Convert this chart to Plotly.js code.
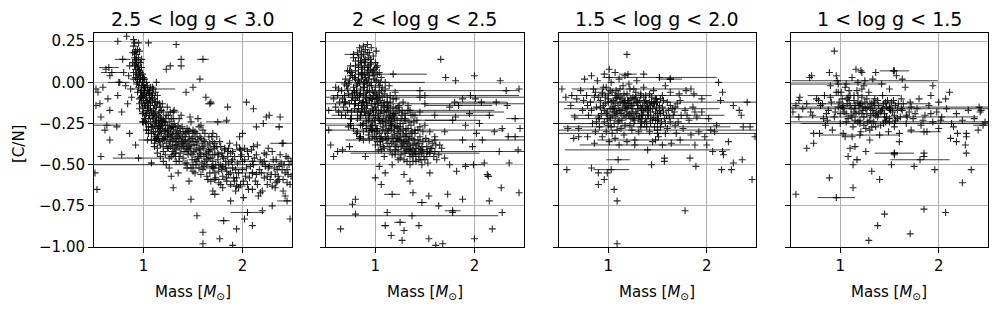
<!DOCTYPE html>
<html>
<head>
<meta charset="utf-8">
<script src="https://cdn.plot.ly/plotly-3.0.1.min.js"></script>
<style>html,body{margin:0;padding:0;background:#fff;}#chart{width:998px;height:311px;}</style>
</head>
<body>
<div id="chart"></div>
<script>
// ---------- panel titles / labels ----------
const panelTitles = ["2.5 < log g < 3.0", "2 < log g < 2.5", "1.5 < log g < 2.0", "1 < log g < 1.5"];
const xTickVals = [1, 2];
const yTickVals = [-1.0, -0.75, -0.5, -0.25, 0.0, 0.25];

// ---------- panel 1 : 2.5 < log g < 3.0 ----------
const mass1 = [
0.90,0.91,0.92,0.93,0.94,0.92,0.95,0.93,0.96,0.94,
0.89,0.91,0.95,0.97,0.96,0.98,0.92,0.90,0.94,0.97,
0.93,0.91,0.95,0.96,0.99,0.98,0.90,0.93,0.95,0.97,
1.00,1.01,0.99,1.02,1.03,1.00,0.98,1.04,1.05,1.02,
0.97,1.01,1.03,0.99,1.05,1.06,1.04,1.00,1.02,0.96,
1.07,1.08,1.06,1.09,1.05,1.03,1.07,1.10,1.08,1.01,
1.10,1.12,1.11,1.13,1.15,1.14,1.12,1.16,1.17,1.18,
1.10,1.13,1.09,1.15,1.19,1.20,1.18,1.16,1.21,1.14,
1.11,1.12,1.09,1.17,1.20,1.22,1.23,1.19,1.11,1.14,
1.24,1.25,1.27,1.26,1.28,1.30,1.29,1.31,1.32,1.33,
1.25,1.27,1.34,1.35,1.36,1.37,1.38,1.39,1.40,1.30,
1.22,1.26,1.33,1.36,1.24,1.31,1.38,1.41,1.42,1.35,
1.43,1.44,1.45,1.46,1.47,1.48,1.49,1.50,1.51,1.52,
1.53,1.54,1.55,1.56,1.57,1.58,1.59,1.60,1.44,1.47,
1.50,1.55,1.58,1.61,1.42,1.46,1.52,1.57,1.60,1.62,
1.63,1.64,1.65,1.66,1.67,1.68,1.69,1.70,1.71,1.72,
1.73,1.74,1.75,1.76,1.77,1.78,1.79,1.80,1.81,1.82,
1.83,1.84,1.85,1.86,1.87,1.88,1.89,1.65,1.70,1.78,
1.90,1.92,1.94,1.95,1.97,1.98,2.00,2.02,2.03,2.05,
2.06,2.08,2.10,2.12,2.13,2.15,2.17,2.18,2.20,2.22,
2.24,2.25,2.27,2.29,2.31,2.33,2.35,2.37,2.39,2.41,
2.43,2.45,2.47,2.49,1.93,2.01,2.09,2.16,2.26,2.44,
1.02,1.04,1.06,1.08,1.13,1.15,1.17,1.19,1.21,1.23,
1.26,1.28,1.29,1.32,1.34,1.37,1.39,1.41,1.43,1.45,
1.48,1.50,1.53,1.55,1.58,1.61,1.64,1.67,1.69,1.72,
0.98,1.00,0.97,1.01,1.03,1.05,1.07,1.09,1.11,1.12,
1.14,1.16,1.18,1.20,1.22,1.25,1.27,1.30,1.33,1.36,
0.83,0.90,0.74,1.05,1.33,1.38,1.23,1.27,0.59,0.56,
0.64,0.54,0.66,0.74,0.61,0.66,0.57,0.53,0.92,0.86,
1.03,0.99,1.30,1.28,1.48,1.54,1.60,1.77,1.60,1.90,
1.94,2.02,2.10,2.34,2.48,2.43,2.27,2.38,2.24,2.11,
2.04,1.85,1.68,1.63,1.50,1.43,1.57,1.38,1.13,0.66,
0.52,0.62,0.57,0.73,0.52,0.78,0.51,2.14,2.21,2.41,
1.97,1.84,2.11,2.00,1.46,1.35,1.70,1.88,2.30,2.20,
0.94,0.96,0.99,1.01,1.04,0.95,0.98,0.92,0.96,1.00,
1.06,1.09,1.12,1.14,1.16,1.04,1.07,1.10,1.13,1.18,
0.99,1.02,1.05,1.08,1.11,1.15,1.19,1.22,1.25,1.28,
1.30,1.32,1.35,1.38,1.40,1.42,1.44,1.46,1.48,1.50,
1.17,1.19,1.21,1.24,1.27,1.29,1.31,1.34,1.37,1.40,
1.43,1.47,1.51,1.54,1.56,1.59,1.62,1.66,1.70,1.73,
1.76,1.79,1.83,1.86,1.90,1.93,1.96,2.00,2.04,2.07,
2.11,2.14,2.19,2.23,2.28,2.32,2.36,2.40,2.46,2.48,
1.52,1.56,1.61,1.66,1.71,1.75,1.80,1.85,1.91,1.99,
0.91,0.93,0.95,0.97,0.99,0.92,0.94,0.96,0.98,1.00,
1.01,1.03,1.05,1.07,1.09,1.11,1.13,1.15,1.17,1.20,
1.22,1.24,1.27,1.30,1.33,1.36,1.39,1.42,1.45,1.49,
1.53,1.57,1.61,1.64,1.68,1.72,1.76,1.80,1.84,1.88,
1.12,1.16,1.20,1.24,1.28,1.32,1.36,1.40,1.44,1.48,
1.52,1.56,1.60,1.64,1.68,1.72,1.76,1.80,1.84,1.88,
1.92,1.96,2.01,2.05,2.10,2.15,2.20,2.25,2.30,2.35,
1.50,1.54,1.58,1.62,1.66,1.70,1.74,1.78,1.82,1.86,
1.90,1.94,1.98,2.02,2.06,2.10,2.14,2.18,2.22,2.26,
1.05,1.08,1.11,1.14,1.17,1.20,1.23,1.26,1.29,1.32,
0.85,0.87,0.88,0.86,0.84,0.89,0.82,0.80,0.78,0.76,
2.30,2.34,2.38,2.42,2.46,2.49,2.33,2.37,2.41,2.45
];
const cn1 = [
0.22,0.18,0.14,0.12,0.20,0.08,0.10,0.05,0.07,0.02,
0.12,0.10,0.15,0.04,0.00,-0.02,0.03,0.06,0.09,0.12,
0.17,0.24,0.24,0.19,0.05,0.09,0.02,-0.01,-0.03,-0.06,
-0.02,-0.05,-0.08,-0.03,-0.08,-0.11,-0.12,-0.12,-0.06,-0.14,
-0.09,0.02,0.00,-0.15,-0.16,-0.10,-0.02,-0.18,-0.20,-0.13,
-0.14,-0.18,-0.20,-0.12,-0.22,-0.25,-0.24,-0.16,-0.08,-0.22,
-0.22,-0.18,-0.26,-0.23,-0.20,-0.28,-0.30,-0.25,-0.15,-0.22,
-0.30,-0.34,-0.27,-0.32,-0.28,-0.18,-0.31,-0.36,-0.24,-0.12,
-0.10,-0.06,-0.03,-0.38,-0.34,-0.29,-0.20,-0.13,-0.37,-0.40,
-0.26,-0.32,-0.28,-0.36,-0.22,-0.30,-0.38,-0.25,-0.34,-0.41,
-0.40,-0.18,-0.29,-0.36,-0.22,-0.32,-0.40,-0.27,-0.35,-0.44,
-0.44,-0.46,-0.48,-0.45,-0.15,-0.17,-0.20,-0.42,-0.30,-0.26,
-0.37,-0.28,-0.44,-0.33,-0.40,-0.24,-0.47,-0.36,-0.42,-0.30,
-0.50,-0.38,-0.45,-0.27,-0.41,-0.34,-0.49,-0.39,-0.52,-0.21,
-0.54,-0.22,-0.56,-0.45,-0.49,-0.39,-0.47,-0.33,-0.29,-0.36,
-0.43,-0.50,-0.38,-0.46,-0.55,-0.41,-0.33,-0.48,-0.52,-0.44,
-0.58,-0.39,-0.47,-0.54,-0.36,-0.50,-0.43,-0.57,-0.46,-0.40,
-0.52,-0.60,-0.45,-0.49,-0.37,-0.55,-0.48,-0.59,-0.31,-0.62,
-0.52,-0.45,-0.58,-0.49,-0.40,-0.62,-0.53,-0.47,-0.57,-0.42,
-0.65,-0.51,-0.55,-0.46,-0.60,-0.38,-0.53,-0.67,-0.49,-0.58,
-0.44,-0.62,-0.51,-0.56,-0.47,-0.64,-0.53,-0.59,-0.49,-0.66,
-0.55,-0.61,-0.50,-0.57,-0.66,-0.70,-0.41,-0.69,-0.40,-0.45,
-0.09,-0.17,-0.05,-0.27,-0.15,-0.27,-0.21,-0.35,-0.30,-0.37,
-0.24,-0.33,-0.42,-0.27,-0.38,-0.43,-0.33,-0.38,-0.31,-0.36,
-0.43,-0.31,-0.41,-0.35,-0.44,-0.40,-0.44,-0.37,-0.51,-0.40,
-0.05,0.03,0.02,-0.14,-0.19,-0.27,-0.03,-0.21,-0.14,-0.24,
-0.33,-0.18,-0.26,-0.39,-0.22,-0.29,-0.35,-0.35,-0.31,-0.39,
0.28,0.26,0.25,0.24,0.23,0.14,0.08,0.10,-0.03,-0.13,
-0.10,-0.06,-0.17,-0.08,-0.29,-0.35,-0.45,-0.65,-0.38,-0.31,
-0.29,-0.24,-0.64,-0.57,-0.71,-0.81,-0.91,-0.95,-0.98,-0.99,
-0.89,-0.83,-0.87,-0.61,-0.83,-0.69,-0.20,-0.21,-0.21,-0.16,
-0.12,-0.15,-0.12,-0.09,-0.03,-0.06,0.02,0.10,0.00,0.04,
-0.04,0.08,-0.21,-0.27,-0.14,-0.44,-0.55,-0.27,-0.25,-0.37,
-0.33,-0.23,-0.39,-0.31,-0.60,-0.55,-0.66,-0.72,-0.75,-0.78,
-0.06,-0.10,0.00,-0.08,-0.05,0.05,0.14,0.19,-0.16,-0.24,
-0.07,-0.09,-0.12,-0.08,-0.13,-0.15,-0.17,-0.20,-0.21,-0.17,
-0.19,-0.24,-0.29,-0.31,-0.33,-0.35,-0.24,-0.26,-0.20,-0.27,
-0.22,-0.38,-0.31,-0.36,-0.30,-0.33,-0.40,-0.29,-0.38,-0.44,
-0.29,-0.24,-0.35,-0.33,-0.39,-0.27,-0.40,-0.33,-0.28,-0.39,
-0.42,-0.35,-0.38,-0.48,-0.40,-0.37,-0.48,-0.41,-0.44,-0.50,
-0.44,-0.53,-0.48,-0.56,-0.47,-0.53,-0.55,-0.48,-0.52,-0.58,
-0.50,-0.56,-0.55,-0.51,-0.59,-0.52,-0.57,-0.53,-0.56,-0.62,
-0.33,-0.46,-0.51,-0.42,-0.39,-0.43,-0.51,-0.42,-0.58,-0.44,
0.15,0.13,0.08,0.06,0.02,0.11,0.00,0.03,-0.09,-0.07,
-0.03,-0.11,-0.13,-0.11,-0.07,-0.19,-0.25,-0.23,-0.27,-0.23,
-0.33,-0.30,-0.31,-0.27,-0.36,-0.34,-0.37,-0.35,-0.41,-0.34,
-0.36,-0.43,-0.35,-0.47,-0.46,-0.37,-0.50,-0.45,-0.54,-0.43,
-0.35,-0.30,-0.42,-0.40,-0.45,-0.43,-0.48,-0.46,-0.49,-0.52,
-0.55,-0.52,-0.53,-0.57,-0.60,-0.55,-0.61,-0.64,-0.58,-0.62,
-0.60,-0.64,-0.60,-0.62,-0.65,-0.62,-0.66,-0.57,-0.63,-0.60,
-0.29,-0.31,-0.26,-0.31,-0.33,-0.36,-0.33,-0.39,-0.41,-0.40,
-0.42,-0.38,-0.45,-0.40,-0.45,-0.48,-0.44,-0.47,-0.43,-0.52,
-0.31,-0.35,-0.39,-0.43,-0.45,-0.48,-0.50,-0.52,-0.32,-0.45,
0.04,-0.04,-0.09,0.10,-0.13,0.18,-0.02,0.06,-0.18,0.00,
-0.42,-0.47,-0.44,-0.50,-0.46,-0.48,-0.56,-0.51,-0.59,-0.53
];
const errMass1 = [0.65,0.68,0.79,0.75,1.10,0.63,1.04,0.95,1.50,1.08,1.60,2.37,2.40,2.22,1.94,2.05,1.81,2.45,1.67,1.75,1.98,1.72,1.72,1.70,1.30,1.45,2.10];
const errCN1   = [0.09,0.06,0.14,0.00,-0.04,-0.26,-0.35,-0.46,-0.50,-0.49,0.14,-0.27,-0.37,-0.48,-0.63,-0.79,-0.84,-0.72,-0.13,-0.24,-0.41,-0.59,-0.68,-0.52,-0.18,-0.30,-0.55];
const errSize1 = [0.10,0.11,0.08,0.11,0.22,0.14,0.09,0.26,1.10,0.03,0.06,0.04,0.12,0.29,0.09,0.17,0.06,0.10,0.05,0.12,0.08,0.11,0.05,0.30,0.06,0.10,0.20];

// ---------- panel 2 : 2 < log g < 2.5 ----------
const mass2 = [
0.78,0.82,0.85,0.88,0.90,0.93,0.80,0.87,0.92,0.95,
0.76,0.79,0.83,0.86,0.89,0.91,0.94,0.97,0.99,0.84,
0.70,0.73,0.75,0.81,0.85,0.88,0.92,0.96,1.00,1.03,
0.66,0.69,0.72,0.77,0.80,0.84,0.87,0.90,0.94,0.98,
1.01,1.04,1.07,1.10,0.64,0.68,0.74,0.79,0.83,0.86,
0.89,0.93,0.97,1.00,1.03,1.06,1.09,1.12,1.15,1.18,
0.82,0.85,0.91,0.95,0.99,1.02,1.05,1.08,1.11,1.14,
1.17,1.20,1.23,1.26,0.88,0.93,0.97,1.01,1.04,1.07,
1.10,1.13,1.16,1.19,1.22,1.25,1.28,1.31,1.34,1.36,
1.05,1.09,1.12,1.15,1.18,1.21,1.24,1.27,1.30,1.33,
1.36,1.39,1.42,1.45,1.48,1.20,1.25,1.30,1.35,1.40,
1.44,1.48,1.52,1.55,1.58,1.38,1.46,1.52,1.60,1.43,
0.86,0.89,0.91,0.94,0.96,0.98,1.02,1.05,1.08,1.11,
1.14,1.17,1.20,1.23,1.26,1.29,1.32,1.35,1.38,1.41,
0.78,0.81,0.84,0.87,0.90,0.93,0.96,0.99,1.02,1.06,
0.80,0.83,0.87,0.92,0.97,1.01,1.05,1.09,1.13,1.16,
1.19,1.22,1.25,1.28,1.31,1.34,1.37,1.40,1.44,1.47,
0.75,0.72,0.69,0.62,0.60,0.58,0.63,0.70,0.76,0.73,
1.15,1.20,1.28,1.33,1.40,1.50,1.55,1.60,1.53,1.62,
0.88,0.91,0.95,0.99,1.03,1.07,1.11,1.15,1.19,1.23,
0.84,0.89,0.93,0.97,1.01,1.04,1.08,1.12,1.16,1.21,
1.66,1.01,1.71,1.81,2.00,2.26,2.32,2.45,2.33,2.22,
1.96,2.01,2.15,2.28,2.46,2.34,2.44,2.25,2.35,2.45,
2.27,2.15,2.28,2.18,2.00,1.68,1.61,1.54,1.44,1.29,
1.27,1.16,1.12,0.77,0.65,0.80,1.00,1.06,1.29,1.38,
1.54,1.73,1.88,1.64,1.78,1.91,1.75,1.82,2.13,2.10,
1.98,1.88,2.08,2.02,1.91,1.95,1.81,1.80,1.88,0.53,
0.55,0.62,0.58,0.67,0.74,0.85,0.53,1.04,1.17,0.80,
0.90,1.60,1.70,1.65,1.75,2.05,2.20,1.55,1.35,1.10,
0.80,0.83,0.86,0.89,0.92,0.95,0.98,1.01,1.04,1.07,
0.79,0.82,0.85,0.88,0.91,0.94,0.97,1.00,1.03,1.06,
0.76,0.79,0.82,0.85,0.88,0.91,0.94,0.97,1.00,1.03,
1.09,1.12,1.15,1.18,1.21,1.24,1.27,1.30,1.33,1.36,
1.10,1.13,1.16,1.19,1.22,1.25,1.28,1.31,1.34,1.37,
1.20,1.23,1.26,1.29,1.32,1.35,1.38,1.41,1.44,1.47,
0.83,0.86,0.90,0.93,0.96,0.99,1.02,1.06,1.10,1.14,
0.71,0.74,0.77,0.80,0.83,0.86,0.89,0.92,0.95,0.98,
1.01,1.04,1.07,1.10,1.13,1.16,1.19,1.22,1.25,1.28,
1.31,1.34,1.37,1.40,1.43,1.46,1.49,1.52,1.56,1.59,
0.67,0.70,0.73,0.76,0.79,0.82,0.85,0.88,0.91,0.94,
0.86,0.90,0.93,0.96,0.99,1.02,1.06,1.09,1.13,1.18,
0.74,0.77,0.80,0.83,0.86,0.89,0.92,0.95,0.98,1.01,
0.96,0.99,1.02,1.05,1.08,1.11,1.14,1.17,1.20,1.23,
1.26,1.29,1.32,1.35,1.38,1.41,1.44,1.47,1.50,1.53,
0.60,0.63,0.66,0.69,0.72,0.75,0.78,0.81,0.84,0.87,
1.12,1.15,1.18,1.21,1.24,1.27,1.30,1.33,1.36,1.39,
1.42,1.45,1.48,1.51,1.54,1.57,1.61,1.64,1.67,1.70,
0.82,0.85,0.88,0.91,0.94,0.97,1.00,1.03,1.06,1.09,
0.86,0.88,0.90,0.92,0.94,0.96,0.98,1.00,1.02,1.04
];
const cn2 = [
0.15,0.18,0.13,0.17,0.12,0.15,0.10,0.08,0.09,0.11,
0.06,0.03,0.05,0.02,0.05,0.01,0.04,0.06,0.02,0.21,
0.02,-0.01,0.04,-0.02,-0.04,-0.01,-0.05,-0.02,-0.03,0.00,
-0.05,-0.08,-0.04,-0.07,-0.10,-0.08,-0.12,-0.09,-0.11,-0.08,
-0.10,-0.06,-0.09,-0.04,-0.12,-0.15,-0.13,-0.16,-0.14,-0.18,
-0.15,-0.19,-0.16,-0.20,-0.17,-0.14,-0.18,-0.12,-0.16,-0.10,
-0.22,-0.26,-0.24,-0.27,-0.23,-0.28,-0.25,-0.22,-0.26,-0.21,
-0.24,-0.19,-0.15,-0.22,-0.30,-0.32,-0.29,-0.33,-0.31,-0.35,
-0.30,-0.34,-0.29,-0.32,-0.27,-0.30,-0.25,-0.28,-0.24,-0.31,
-0.38,-0.40,-0.37,-0.41,-0.36,-0.39,-0.35,-0.38,-0.33,-0.37,
-0.40,-0.35,-0.38,-0.33,-0.36,-0.44,-0.46,-0.43,-0.45,-0.42,
-0.44,-0.41,-0.39,-0.43,-0.37,-0.48,-0.47,-0.45,-0.42,-0.29,
0.10,0.00,-0.06,-0.02,-0.13,-0.17,-0.13,-0.19,-0.27,-0.21,
-0.28,-0.33,-0.26,-0.31,-0.35,-0.40,-0.33,-0.38,-0.41,-0.45,
-0.03,-0.06,-0.11,-0.16,-0.20,-0.23,-0.26,-0.30,-0.36,-0.33,
0.07,0.01,0.04,-0.01,-0.05,-0.07,-0.11,-0.15,-0.18,-0.22,
-0.27,-0.23,-0.27,-0.32,-0.36,-0.41,-0.34,-0.37,-0.40,-0.43,
0.10,0.07,-0.01,-0.08,-0.03,-0.10,-0.18,-0.20,-0.22,-0.27,
-0.08,-0.06,-0.12,-0.17,-0.20,-0.26,-0.30,-0.33,-0.49,-0.47,
-0.07,-0.12,-0.09,-0.13,-0.21,-0.24,-0.17,-0.25,-0.21,-0.28,
0.00,-0.03,0.02,-0.10,-0.17,-0.09,-0.14,-0.31,-0.37,-0.34,
0.14,0.19,0.03,0.01,0.04,0.01,-0.05,-0.04,-0.14,-0.12,
-0.08,-0.10,-0.20,-0.28,-0.28,-0.33,-0.41,-0.42,-0.49,-0.67,
-0.64,-0.72,-0.79,-0.89,-0.95,-0.98,-0.99,-0.95,-0.87,-0.90,
-0.96,-0.93,-0.79,-0.74,-0.89,-0.80,-0.58,-0.62,-0.56,-0.67,
-0.69,-0.68,-0.71,-0.75,-0.79,-0.51,-0.50,-0.54,-0.56,-0.49,
-0.39,-0.35,-0.35,-0.31,-0.26,-0.19,-0.21,-0.12,-0.10,-0.29,
-0.38,-0.42,-0.45,-0.41,-0.39,-0.33,-0.17,-0.51,-0.50,-0.71,
-0.45,-0.20,-0.30,-0.38,-0.15,-0.25,-0.30,-0.55,-0.60,-0.55,
0.13,0.09,0.06,0.09,0.06,0.08,0.04,0.01,-0.02,-0.03,
-0.05,-0.01,-0.07,-0.03,-0.10,-0.06,-0.10,-0.15,-0.12,-0.17,
-0.11,-0.13,-0.18,-0.21,-0.12,-0.16,-0.21,-0.24,-0.26,-0.22,
-0.07,-0.09,-0.12,-0.15,-0.16,-0.18,-0.20,-0.22,-0.28,-0.26,
-0.24,-0.29,-0.26,-0.30,-0.34,-0.25,-0.29,-0.31,-0.35,-0.30,
-0.38,-0.41,-0.39,-0.36,-0.39,-0.42,-0.38,-0.40,-0.37,-0.39,
0.15,0.12,0.14,0.10,0.12,0.08,0.05,0.03,0.00,-0.02,
-0.02,0.01,-0.09,-0.13,-0.16,-0.14,-0.18,-0.14,-0.18,-0.20,
-0.28,-0.23,-0.29,-0.33,-0.23,-0.26,-0.22,-0.36,-0.33,-0.37,
-0.41,-0.33,-0.44,-0.31,-0.35,-0.41,-0.45,-0.42,-0.40,-0.45,
-0.10,-0.12,-0.07,-0.18,-0.06,-0.09,-0.20,-0.25,-0.28,-0.30,
0.05,0.03,0.07,0.00,-0.06,-0.09,-0.05,-0.12,-0.14,-0.20,
0.07,0.04,0.02,0.11,0.16,0.13,0.18,0.14,0.07,0.09,
-0.29,-0.33,-0.30,-0.36,-0.39,-0.35,-0.39,-0.44,-0.41,-0.47,
-0.44,-0.47,-0.48,-0.50,-0.45,-0.48,-0.47,-0.50,-0.47,-0.42,
-0.15,-0.04,-0.20,-0.12,-0.17,-0.25,-0.28,-0.31,-0.34,-0.26,
-0.15,-0.20,-0.19,-0.10,-0.14,-0.17,-0.19,-0.14,-0.20,-0.24,
-0.23,-0.27,-0.30,-0.34,-0.36,-0.40,-0.38,-0.44,-0.40,-0.46,
-0.30,-0.33,-0.35,-0.28,-0.35,-0.33,-0.38,-0.41,-0.41,-0.45,
0.19,0.22,0.20,0.23,0.18,0.21,0.16,0.12,0.10,0.06
];
const errMass2 = [0.78,1.18,1.05,1.45,1.50,1.45,1.50,1.35,1.45,1.38,0.75,0.75,1.30,1.40,1.60,1.55,1.40,1.05,1.99,2.14,1.78,1.37,1.17,1.10,1.25,2.07,2.41,2.41,1.47,1.84,1.78];
const errCN2   = [0.17,0.05,0.00,-0.05,-0.08,-0.09,-0.13,-0.17,-0.18,-0.20,-0.22,-0.26,-0.23,-0.29,-0.35,-0.42,-0.43,-0.34,-0.50,-0.57,-0.78,-0.81,-0.68,-0.87,-0.85,-0.12,-0.22,-0.33,-0.73,-0.14,-0.23];
const errSize2 = [0.09,0.34,0.45,1.00,0.95,1.05,1.00,0.85,0.85,0.82,0.25,0.25,0.50,0.90,0.90,0.95,0.65,0.18,0.11,0.04,0.08,0.87,0.08,0.04,0.06,0.26,0.09,0.09,0.05,0.34,0.28];

// ---------- panel 3 : 1.5 < log g < 2.0 ----------
const mass3 = [
0.72,0.78,0.82,0.85,0.88,0.90,0.93,0.95,0.97,0.99,
1.00,1.02,1.03,1.05,1.06,1.08,1.09,1.10,1.12,1.13,
1.14,1.15,1.16,1.18,1.19,1.20,1.22,1.23,1.24,1.26,
1.27,1.28,1.30,1.31,1.32,1.34,1.35,1.37,1.38,1.40,
1.42,1.43,1.45,1.47,1.48,1.50,1.52,1.54,1.56,1.58,
1.60,1.62,1.65,1.68,1.70,1.74,1.78,1.82,1.86,1.90,
0.80,0.84,0.87,0.91,0.94,0.98,1.01,1.04,1.07,1.11,
0.76,0.83,0.89,0.96,1.01,1.07,1.11,1.17,1.21,1.29,
1.00,1.04,1.07,1.11,1.14,1.17,1.21,1.25,1.29,1.33,
1.36,1.39,1.41,1.44,1.46,1.49,1.53,1.57,1.61,1.66,
0.92,0.96,1.03,1.09,1.16,1.24,1.33,1.42,1.51,1.60,
1.69,1.76,1.84,1.92,1.98,2.04,2.10,1.95,2.02,1.72,
0.62,0.66,0.68,0.74,0.70,0.79,0.86,1.19,1.27,1.45,
1.55,1.64,1.73,1.88,1.26,1.36,1.46,1.55,1.63,1.58,
1.05,1.09,1.13,1.17,1.21,1.26,1.30,1.34,1.38,1.43,
0.86,0.90,0.94,0.98,1.02,1.06,1.10,1.16,1.20,1.25,
1.19,1.01,1.36,1.63,2.12,0.58,0.83,0.90,0.99,0.96,
0.90,1.06,1.09,1.09,1.78,2.46,2.27,2.36,2.15,2.25,
1.89,1.57,1.57,1.44,1.83,2.16,2.17,2.06,2.27,2.33,
2.41,2.35,2.44,2.49,2.37,2.14,2.16,1.79,1.84,1.87,
0.53,0.59,0.65,0.70,0.57,0.63,2.00,2.22,1.95,2.08,
0.95,0.99,1.03,1.07,1.11,1.15,1.19,1.23,1.27,1.31,
1.35,1.39,1.43,1.47,1.51,1.55,1.59,1.63,1.67,1.71,
0.88,0.92,0.97,1.02,1.07,1.12,1.18,1.23,1.28,1.33,
1.38,1.43,1.48,1.53,1.58,1.63,1.68,1.73,1.80,1.88,
0.75,0.79,0.83,0.87,0.91,0.96,1.00,1.04,1.08,1.12,
1.17,1.21,1.25,1.29,1.33,1.37,1.41,1.45,1.49,1.53,
1.00,1.04,1.08,1.12,1.16,1.20,1.24,1.28,1.32,1.36,
1.40,1.44,1.48,1.52,1.56,0.94,0.98,1.02,1.06,1.10,
1.14,1.18,1.22,1.26,1.30,1.34,1.38,1.42,1.46,1.50
];
const cn3 = [
-0.05,-0.08,-0.12,-0.04,-0.15,-0.09,-0.19,-0.03,-0.13,-0.22,
-0.07,-0.16,0.00,-0.11,-0.25,-0.05,-0.19,-0.14,-0.09,-0.28,
-0.17,-0.02,-0.12,-0.21,-0.07,-0.15,-0.26,-0.10,-0.18,-0.13,
-0.23,-0.06,-0.16,-0.30,-0.11,-0.20,-0.14,-0.25,-0.08,-0.17,
-0.12,-0.22,-0.16,-0.27,-0.10,-0.19,-0.14,-0.24,-0.18,-0.31,
-0.12,-0.21,-0.16,-0.26,-0.13,-0.20,-0.17,-0.23,-0.15,-0.21,
-0.20,-0.25,-0.30,-0.27,-0.33,-0.30,-0.36,-0.31,-0.34,-0.38,
0.02,0.04,0.01,0.05,0.03,0.06,0.02,0.04,-0.01,0.01,
-0.10,-0.20,-0.13,-0.23,-0.10,-0.15,-0.20,-0.09,-0.19,-0.15,
-0.18,-0.13,-0.20,-0.09,-0.21,-0.15,-0.19,-0.22,-0.17,-0.20,
-0.11,-0.17,-0.27,-0.29,-0.32,-0.29,-0.27,-0.30,-0.33,-0.28,
-0.31,-0.28,-0.32,-0.30,-0.33,-0.29,-0.26,-0.18,-0.22,-0.07,
-0.14,-0.21,-0.10,-0.17,-0.28,-0.33,-0.37,-0.36,-0.35,-0.36,
-0.38,-0.37,-0.35,-0.38,-0.04,-0.03,-0.05,-0.08,-0.06,-0.02,
-0.15,-0.09,-0.19,-0.11,-0.13,-0.21,-0.12,-0.17,-0.22,-0.14,
-0.09,-0.21,-0.07,-0.19,-0.23,-0.18,-0.24,-0.07,-0.11,-0.16,
0.17,0.08,0.05,0.02,0.00,-0.53,-0.52,-0.55,-0.55,-0.59,
-0.62,-0.65,-0.72,-0.98,-0.78,-0.59,-0.49,-0.47,-0.53,-0.53,
-0.51,-0.48,-0.46,-0.50,-0.46,-0.42,-0.44,-0.42,-0.14,-0.17,
-0.12,-0.20,-0.27,-0.33,-0.27,-0.11,-0.06,-0.05,-0.04,-0.07,
-0.04,-0.28,-0.34,-0.33,-0.09,-0.08,-0.38,-0.36,-0.10,-0.30,
-0.14,-0.18,-0.12,-0.21,-0.17,-0.13,-0.18,-0.14,-0.10,-0.22,
-0.20,-0.24,-0.18,-0.13,-0.22,-0.15,-0.20,-0.14,-0.18,-0.24,
-0.24,-0.15,-0.09,-0.05,-0.08,-0.04,-0.16,-0.22,-0.09,-0.24,
-0.11,-0.25,-0.18,-0.10,-0.25,-0.24,-0.15,-0.11,-0.20,-0.18,
-0.11,-0.14,-0.17,-0.06,-0.22,-0.24,-0.26,-0.06,-0.10,-0.17,
-0.26,-0.11,-0.22,-0.12,-0.07,-0.12,-0.16,-0.23,-0.10,-0.27,
-0.12,-0.16,-0.18,-0.12,-0.20,-0.11,-0.14,-0.18,-0.21,-0.09,
-0.15,-0.12,-0.23,-0.17,-0.11,-0.06,-0.03,-0.21,-0.16,-0.07,
-0.23,-0.14,-0.19,-0.25,-0.14,-0.25,-0.16,-0.07,-0.13,-0.23
];
const errMass3 = [1.50,1.50,1.39,1.50,1.40,1.33,1.22,1.52,1.20,1.63,1.10,1.40,1.27,1.03,1.34,1.34,1.48,1.50];
const errCN3   = [-0.12,-0.25,-0.27,-0.31,-0.41,-0.08,-0.04,0.03,0.05,0.02,-0.47,-0.20,-0.38,-0.53,-0.16,-0.22,-0.35,-0.29];
const errSize3 = [1.05,1.05,0.85,1.05,0.84,0.72,0.59,0.58,0.09,0.12,0.12,0.78,0.56,0.18,0.79,0.69,0.59,1.05];

// ---------- panel 4 : 1 < log g < 1.5 ----------
const mass4 = [
0.76,0.80,0.84,0.88,0.91,0.94,0.96,0.98,1.00,1.02,
1.04,1.05,1.07,1.08,1.10,1.11,1.13,1.14,1.16,1.17,
1.19,1.20,1.22,1.23,1.25,1.26,1.28,1.29,1.31,1.32,
1.34,1.35,1.37,1.39,1.41,1.43,1.45,1.47,1.50,1.52,
1.55,1.58,1.61,1.64,1.67,1.70,1.74,1.78,1.82,1.86,
1.90,1.94,1.98,2.03,2.08,2.13,2.18,2.24,2.30,2.36,
2.42,2.47,0.70,0.66,0.62,0.58,0.55,0.85,0.92,1.03,
1.12,1.21,1.30,1.40,1.49,1.60,1.72,1.88,2.00,2.15,
0.90,0.97,1.06,1.12,1.18,1.24,1.33,1.42,1.50,1.66,
1.03,1.09,1.15,1.21,1.27,1.33,1.38,1.44,1.48,1.56,
1.18,1.24,1.36,1.46,1.53,1.62,1.71,1.80,1.92,2.00,
0.94,0.55,0.89,1.13,1.40,1.32,1.45,1.38,1.29,1.71,
1.85,2.07,2.24,2.33,1.96,1.75,1.52,1.13,1.26,1.10,
1.15,0.66,0.73,0.73,0.79,1.55,1.55,1.85,1.85,2.28,
2.28,2.27,2.28,2.12,2.18,2.19,2.40,2.41,2.43,1.94,
2.11,2.07,0.69,0.71,0.89,0.96,1.16,1.21,1.22,1.36,
1.54,1.63,1.57,0.59,0.52,0.58,1.08,1.30,1.60,1.05,
0.95,0.99,1.03,1.07,1.11,1.15,1.19,1.23,1.27,1.31,
1.35,1.39,1.43,1.47,1.51,1.55,1.59,1.63,1.67,1.72,
0.82,0.86,0.90,1.00,1.06,1.12,1.18,1.24,1.30,1.36,
1.41,1.46,1.51,1.56,1.62,1.68,1.76,1.84,1.92,2.02,
0.72,0.78,0.83,0.87,1.01,1.09,1.15,1.22,1.28,1.34,
1.02,1.06,1.10,1.14,1.18,1.22,1.26,1.30,1.34,1.38,
1.42,1.46,1.50,1.54,1.58,0.98,1.08,1.20,1.32,1.44
];
const cn4 = [
-0.10,-0.14,-0.08,-0.17,-0.12,-0.21,-0.06,-0.15,-0.25,-0.10,
-0.18,-0.03,-0.13,-0.22,-0.08,-0.16,-0.27,-0.11,-0.19,-0.05,
-0.14,-0.23,-0.09,-0.17,-0.12,-0.28,-0.15,-0.06,-0.20,-0.13,
-0.24,-0.10,-0.18,-0.14,-0.26,-0.08,-0.19,-0.15,-0.22,-0.12,
-0.27,-0.17,-0.21,-0.13,-0.25,-0.18,-0.22,-0.16,-0.26,-0.20,
-0.14,-0.24,-0.18,-0.21,-0.16,-0.25,-0.19,-0.23,-0.17,-0.22,
-0.18,-0.24,-0.18,-0.13,-0.16,-0.11,-0.14,-0.26,-0.29,-0.31,
-0.33,-0.30,-0.29,-0.32,-0.30,-0.31,-0.29,-0.30,-0.28,-0.27,
-0.02,0.01,-0.01,0.03,0.00,-0.02,0.02,-0.01,-0.04,-0.03,
-0.14,-0.11,-0.16,-0.13,-0.19,-0.17,-0.21,-0.13,-0.11,-0.14,
-0.24,-0.21,-0.27,-0.24,-0.18,-0.10,-0.12,-0.10,-0.08,-0.12,
0.19,-0.68,-0.58,-0.64,-0.59,-0.54,-0.80,-0.87,-0.96,-0.92,
-0.77,-0.79,-0.61,-0.53,-0.53,-0.51,-0.50,-0.50,-0.42,-0.40,
-0.39,-0.40,-0.37,-0.31,-0.31,-0.44,-0.43,-0.45,-0.43,-0.31,
-0.33,-0.38,-0.43,-0.34,-0.36,-0.31,-0.29,-0.15,-0.17,-0.02,
-0.06,-0.10,0.03,0.04,0.06,0.04,0.08,0.07,0.06,0.06,
0.07,0.02,0.04,-0.09,-0.18,-0.21,-0.45,-0.35,-0.36,-0.33,
-0.18,-0.12,-0.16,-0.10,-0.20,-0.14,-0.18,-0.15,-0.10,-0.16,
-0.14,-0.19,-0.16,-0.21,-0.16,-0.20,-0.13,-0.17,-0.20,-0.15,
-0.13,-0.19,-0.09,-0.19,-0.24,-0.21,-0.08,-0.26,-0.23,-0.20,
-0.18,-0.23,-0.17,-0.23,-0.16,-0.21,-0.19,-0.23,-0.19,-0.23,
-0.20,-0.11,-0.22,-0.23,-0.06,-0.05,-0.23,-0.04,-0.24,-0.12,
-0.15,-0.19,-0.14,-0.18,-0.12,-0.19,-0.16,-0.13,-0.19,-0.11,
-0.17,-0.12,-0.16,-0.11,-0.22,-0.06,-0.09,-0.25,-0.27,-0.25
];
const errMass4 = [1.25,0.98,1.50,1.50,1.50,1.55,2.45,1.20,1.85,1.55,1.81,1.17,1.55,1.14,1.20,1.45,0.96];
const errCN4   = [0.01,-0.01,-0.15,-0.16,-0.24,-0.25,-0.26,-0.32,-0.30,-0.43,-0.47,-0.47,0.07,-0.08,-0.13,-0.21,-0.70];
const errSize4 = [0.74,0.49,1.05,1.05,1.05,0.95,0.10,0.40,0.17,0.20,0.30,0.04,0.15,0.47,0.72,0.95,0.19];

// ---------- build ----------
const panels = [
  {m: mass1, c: cn1, em: errMass1, ec: errCN1, ee: errSize1},
  {m: mass2, c: cn2, em: errMass2, ec: errCN2, ee: errSize2},
  {m: mass3, c: cn3, em: errMass3, ec: errCN3, ee: errSize3},
  {m: mass4, c: cn4, em: errMass4, ec: errCN4, ee: errSize4}
];
const domains = [[0, 0.2215], [0.2592, 0.481], [0.5201, 0.7405], [0.7796, 1]];

const markerStyle = {
  symbol: 'cross-thin', size: 5, color: 'rgba(0,0,0,0.85)',
  line: {width: 1.1, color: 'rgba(0,0,0,0.85)'}
};

const traces = [];
const layout = {
  width: 998, height: 311,
  margin: {l: 94, r: 10, t: 33, b: 64},
  paper_bgcolor: '#fff', plot_bgcolor: '#fff',
  showlegend: false,
  font: {family: 'DejaVu Sans, sans-serif', color: '#000'},
  annotations: []
};

panels.forEach((p, i) => {
  const xa = i === 0 ? 'x' : 'x' + (i + 1);
  const ya = i === 0 ? 'y' : 'y' + (i + 1);
  traces.push({
    type: 'scatter', mode: 'markers', x: p.m, y: p.c, xaxis: xa, yaxis: ya,
    marker: markerStyle, hoverinfo: 'skip'
  });
  traces.push({
    type: 'scatter', mode: 'markers', x: p.em, y: p.ec, xaxis: xa, yaxis: ya,
    marker: markerStyle, hoverinfo: 'skip',
    error_x: {type: 'data', array: p.ee, visible: true, color: 'rgba(0,0,0,0.85)', thickness: 0.9, width: 0}
  });
  const axCommon = {
    showline: true, mirror: true, linecolor: '#000', linewidth: 1,
    ticks: 'outside', ticklen: 5, tickwidth: 1, tickcolor: '#000',
    showgrid: true, gridcolor: '#b0b0b0', gridwidth: 1, zeroline: false,
    tickfont: {family: 'DejaVu Sans, sans-serif', size: 15, color: '#000'},
    fixedrange: true
  };
  layout['xaxis' + (i === 0 ? '' : i + 1)] = Object.assign({}, axCommon, {
    domain: domains[i], anchor: ya, range: [0.5, 2.5],
    tickmode: 'array', tickvals: xTickVals, ticktext: xTickVals.map(String)
  });
  layout['yaxis' + (i === 0 ? '' : i + 1)] = Object.assign({}, axCommon, {
    domain: [0, 1], anchor: xa, range: [-1, 0.3],
    tickmode: 'array', tickvals: yTickVals, tickformat: '.2f',
    showticklabels: i === 0
  });
  const cx = (domains[i][0] + domains[i][1]) / 2;
  layout.annotations.push({
    text: panelTitles[i], xref: 'paper', yref: 'paper', x: cx, y: 1,
    xanchor: 'center', yanchor: 'middle', yshift: 14, showarrow: false,
    font: {family: 'DejaVu Sans, sans-serif', size: 19, color: '#000'}
  });
  layout.annotations.push({
    text: 'Mass [<i>M</i><sub>⊙</sub>]', xref: 'paper', yref: 'paper', x: cx, y: 0,
    xanchor: 'center', yanchor: 'middle', yshift: -45, showarrow: false,
    font: {family: 'DejaVu Sans, sans-serif', size: 15, color: '#000'}
  });
});
layout.annotations.push({
  text: '[C/N]', xref: 'paper', yref: 'paper', x: 0, y: 0.5,
  xanchor: 'center', yanchor: 'middle', xshift: -75, yshift: -4, textangle: -90, showarrow: false,
  font: {family: 'DejaVu Sans, sans-serif', size: 15, color: '#000'}
});

Plotly.newPlot('chart', traces, layout, {staticPlot: true, displayModeBar: false});
</script>
</body>
</html>
